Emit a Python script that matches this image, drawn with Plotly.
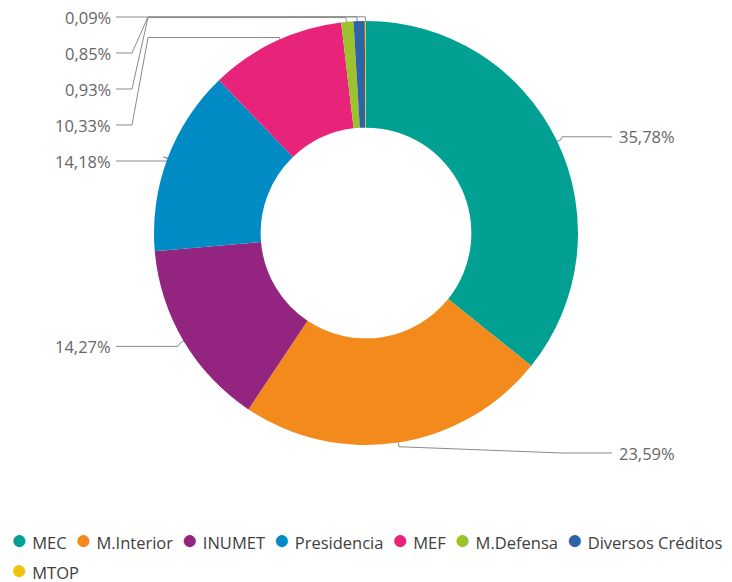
import math
import plotly.graph_objects as go

labels = ["MEC", "M.Interior", "INUMET", "Presidencia", "MEF", "M.Defensa", "Diversos Créditos", "MTOP"]
values = [35.78, 23.59, 14.27, 14.18, 10.33, 0.93, 0.85, 0.09]
colors = ["#01a093", "#f28b1c", "#93247f", "#018bc4", "#e8237a", "#9cc32c", "#2f63a8", "#efc40f"]

# the page has an 8px body margin; work in window pixels and shift
OFF = 8
W, H = 732 - OFF, 582 - OFF
cx, cy, r = 366, 233, 212

fig = go.Figure()
fig.add_trace(go.Pie(
    labels=labels, values=values, sort=False, direction="clockwise", rotation=0,
    hole=0.497, textinfo="none", showlegend=False, hoverinfo="label+percent",
    marker=dict(colors=colors, line=dict(width=0)),
    domain=dict(x=[(cx - r - OFF) / W, (cx + r - OFF) / W],
                y=[1 - (cy + r - OFF) / H, 1 - (cy - r - OFF) / H]),
))

# leader lines and labels from the slice angles
total = sum(values)
start = 0.0
left, right = [], []
for v in values:
    mid = (start + v / 2) / total * 2 * math.pi
    start += v
    item = dict(v=v, th=mid, ny=cy - 1.05 * r * math.cos(mid))
    (right if math.sin(mid) >= 0 else left).append(item)


def stack(items):
    items.sort(key=lambda d: d["ny"])
    y = 17
    for d in items:
        d["ly"] = max(d["ny"], y)
        y = d["ly"] + 36


stack(left)
stack(right)

lx, ly = [], []
annos = []
for side, items in (("L", left), ("R", right)):
    for d in items:
        s, c = math.sin(d["th"]), math.cos(d["th"])
        ax, ay = cx + 0.92 * r * s, cy - 0.92 * r * c
        ex, ey = cx + 1.02 * r * s, cy - 1.02 * r * c
        txt = f"{d['v']:.2f}".replace(".", ",") + "%"
        if side == "L":
            if d["ly"] - d["ny"] > 20:
                lane = max(ey, 15)
                pts = [(ax, ay), (ax - 3, lane), (148, lane), (132, d["ly"]), (116, d["ly"])]
            else:
                pts = [(ax, ay), (ex, ey), (178, d["ly"]), (116, d["ly"])]
            annos.append(dict(x=113, y=d["ly"], xanchor="right", text=txt))
        else:
            pts = [(ax, ay), (ex, ey), (562, d["ly"]), (612, d["ly"])]
            annos.append(dict(x=617, y=d["ly"], xanchor="left", text=txt))
        for px, py in pts:
            lx.append(px)
            ly.append(py)
        lx.append(None)
        ly.append(None)

fig.add_trace(go.Scatter(x=lx, y=ly, mode="lines", line=dict(color="#8a8a8a", width=1),
                         showlegend=False, hoverinfo="skip"))

for a in annos:
    fig.add_annotation(x=a["x"], y=a["y"], xref="x", yref="y", text=a["text"],
                       showarrow=False, xanchor=a["xanchor"], yanchor="middle",
                       font=dict(size=16.5, color="#666666"))

# legend rows: round colour dots followed by names
per_row = 7
rows = [list(zip(labels, colors))[i:i + per_row] for i in range(0, len(labels), per_row)]
for i, row in enumerate(rows):
    parts = [f"<span style='color:{c};font-size:28px'>●</span>&nbsp;{lab}" for lab, c in row]
    fig.add_annotation(x=9, y=538 + 30 * i, xref="x", yref="y", xanchor="left", yanchor="middle",
                       text="&nbsp;&nbsp;".join(parts), showarrow=False, align="left",
                       font=dict(size=16.5, color="#404040"))

fig.update_xaxes(range=[OFF, OFF + W], visible=False, domain=[0, 1], fixedrange=True)
fig.update_yaxes(range=[OFF + H, OFF], visible=False, domain=[0, 1], fixedrange=True)
fig.update_layout(
    width=W, height=H, margin=dict(l=0, r=0, t=0, b=0),
    paper_bgcolor="white", plot_bgcolor="rgba(0,0,0,0)", showlegend=False,
    font=dict(family="Segoe UI, Open Sans, sans-serif", color="#404040"),
)
fig.write_html("out.html")
